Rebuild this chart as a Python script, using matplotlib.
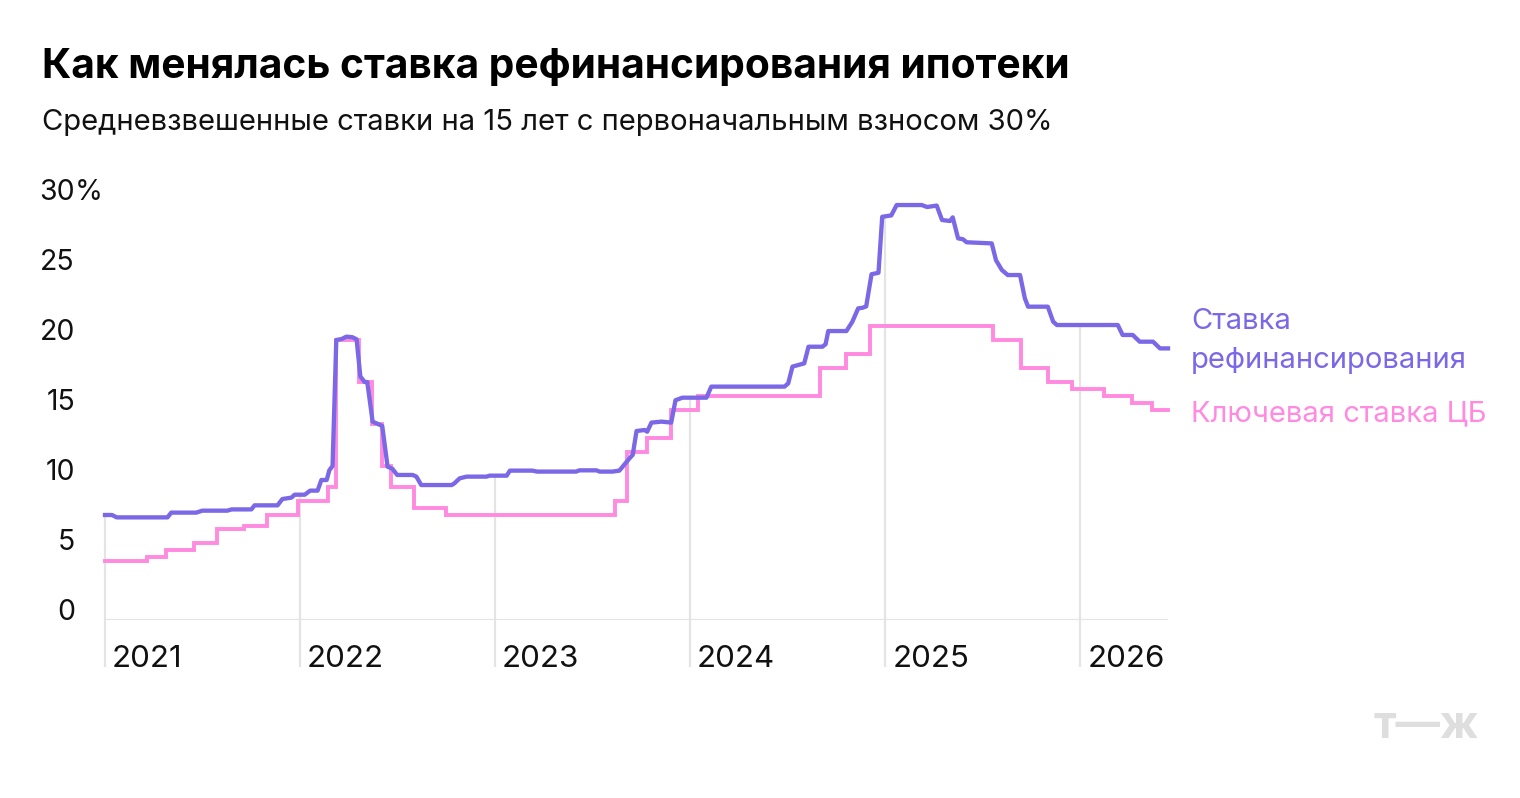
import matplotlib
matplotlib.use("Agg")
import matplotlib.pyplot as plt
import matplotlib.dates as mdates
import matplotlib.transforms as mtransforms
import numpy as np
import pandas as pd

plt.rcParams["font.family"] = ["Inter", "DejaVu Sans"]

# средневзвешенная ставка рефинансирования, %
refi_dates = [
    "2021-01-01", "2021-01-14", "2021-01-23", "2021-04-28", "2021-05-05", "2021-06-21",
    "2021-07-02", "2021-08-18", "2021-08-26", "2021-10-02", "2021-10-08", "2021-11-20",
    "2021-11-29", "2021-12-09", "2021-12-16", "2021-12-22", "2022-01-10", "2022-01-20",
    "2022-02-03", "2022-02-10", "2022-02-20", "2022-02-25", "2022-03-03", "2022-03-10",
    "2022-03-20", "2022-03-29", "2022-04-09", "2022-04-17", "2022-04-24", "2022-05-02",
    "2022-05-07", "2022-05-17", "2022-06-04", "2022-06-14", "2022-06-23", "2022-07-02",
    "2022-07-31", "2022-08-07", "2022-08-16", "2022-10-12", "2022-10-17", "2022-10-27",
    "2022-11-09", "2022-12-16", "2022-12-22", "2023-01-23", "2023-01-29", "2023-03-12",
    "2023-03-21", "2023-06-02", "2023-06-08", "2023-07-10", "2023-07-16", "2023-08-09",
    "2023-08-22", "2023-08-28", "2023-09-10", "2023-09-16", "2023-09-23", "2023-10-08",
    "2023-10-13", "2023-10-21", "2023-11-09", "2023-11-27", "2023-12-05", "2023-12-18",
    "2024-02-01", "2024-02-10", "2024-06-26", "2024-07-03", "2024-07-11", "2024-08-02",
    "2024-08-10", "2024-09-05", "2024-09-11", "2024-09-16", "2024-10-20", "2024-10-31",
    "2024-11-11", "2024-11-19", "2024-11-26", "2024-12-06", "2024-12-19", "2024-12-26",
    "2025-01-12", "2025-01-22", "2025-03-10", "2025-03-20", "2025-04-07", "2025-04-17",
    "2025-05-02", "2025-05-07", "2025-05-17", "2025-05-26", "2025-06-02", "2025-07-19",
    "2025-07-27", "2025-08-07", "2025-08-18", "2025-09-10", "2025-09-19", "2025-09-25",
    "2025-11-01", "2025-11-11", "2025-11-18", "2026-03-12", "2026-03-21", "2026-04-09",
    "2026-04-22", "2026-05-17", "2026-05-30", "2026-06-14",
]
refi_values = [
    7.5, 7.5, 7.33, 7.33, 7.67, 7.67,
    7.81, 7.81, 7.9, 7.9, 8.19, 8.19,
    8.64, 8.7, 8.74, 8.95, 8.95, 9.24,
    9.24, 10.0, 10.0, 10.7, 11.0, 20.0,
    20.07, 20.24, 20.2, 20.05, 17.4, 17.0,
    17.0, 14.17, 13.86, 10.95, 10.8, 10.36,
    10.36, 10.24, 9.64, 9.64, 9.76, 10.12,
    10.24, 10.24, 10.31, 10.31, 10.67, 10.67,
    10.6, 10.6, 10.69, 10.69, 10.6, 10.6,
    10.67, 10.95, 11.55, 11.8, 13.5, 13.57,
    13.45, 14.1, 14.17, 14.1, 15.7, 15.88,
    15.88, 16.67, 16.67, 16.9, 18.1, 18.33,
    19.52, 19.52, 19.7, 20.64, 20.64, 21.3,
    22.26, 22.3, 22.4, 24.7, 24.8, 28.8,
    28.9, 29.64, 29.64, 29.5, 29.6, 28.57,
    28.5, 28.76, 27.26, 27.2, 26.98, 26.9,
    25.7, 25.0, 24.64, 24.64, 22.98, 22.38,
    22.38, 21.31, 21.07, 21.07, 20.36, 20.36,
    19.88, 19.88, 19.4, 19.4,
]

# ключевая ставка ЦБ, % (ступеньки)
key_dates = [
    "2021-01-01", "2021-03-20", "2021-04-26", "2021-06-16", "2021-07-29", "2021-09-19",
    "2021-11-01", "2021-12-29", "2022-02-23", "2022-03-10", "2022-04-22", "2022-05-15",
    "2022-06-04", "2022-06-21", "2022-08-03", "2022-10-02", "2023-08-13", "2023-09-06",
    "2023-10-12", "2023-11-26", "2024-01-16", "2024-08-31", "2024-10-20", "2024-12-04",
    "2025-07-21", "2025-09-12", "2025-11-01", "2025-12-16", "2026-02-14", "2026-04-07",
    "2026-05-15", "2026-06-14",
]
key_values = [
    4.25, 4.5, 5.0, 5.5, 6.5, 6.75,
    7.5, 8.5, 9.5, 20.0, 17.0, 14.0,
    11.0, 9.5, 8.0, 7.5, 8.5, 12.0,
    13.0, 15.0, 16.0, 18.0, 19.0, 21.0,
    20.0, 18.0, 17.0, 16.5, 16.0, 15.5,
    15.0, 15.0,
]

years = [2021, 2022, 2023, 2024, 2025, 2026]
y_ticks = [0, 5, 10, 15, 20, 25, 30]

title = "Как менялась ставка рефинансирования ипотеки"
subtitle = "Средневзвешенные ставки на 15 лет с первоначальным взносом 30%"

BLUE = "#7b68e6"
PINK = "#ff8ae0"
GRID = "#e4e4e4"

W, H = 1520, 798
fig = plt.figure(figsize=(W / 100, H / 100), dpi=100)
ax = fig.add_axes([105 / W, 1 - 620 / H, (1168 - 105) / W, 420 / H])

refi_x = pd.to_datetime(refi_dates)
key_x = pd.to_datetime(key_dates)

ax.set_xlim(pd.Timestamp("2021-01-01"), pd.Timestamp("2026-06-14"))
ax.set_ylim(0, 30)
for s in ax.spines.values():
    s.set_visible(False)
ax.set_xticks([])
ax.set_yticks([])

# вертикальные линии годов — от подписи до линии ставки
refi_num = mdates.date2num(refi_x)
for yr in years:
    d = pd.Timestamp(f"{yr}-01-01")
    top = np.interp(mdates.date2num(d), refi_num, refi_values)
    ax.vlines(d, -3.36, top, color=GRID, lw=1.6, zorder=1, clip_on=False)
ax.axhline(0, color=GRID, lw=1.6, zorder=1)

ax.plot(key_x, key_values, drawstyle="steps-post", color=PINK, lw=2.8,
        zorder=3, solid_joinstyle="miter", clip_on=False)
ax.plot(refi_x, refi_values, color=BLUE, lw=3.1, zorder=4, clip_on=False)

# подписи оси Y
ytr = mtransforms.blended_transform_factory(fig.transFigure, ax.transData)
for v in y_ticks:
    ax.text(75 / W, v, str(v), transform=ytr, ha="right", va="baseline",
            fontsize=20.5, color="#111111")
ax.text(75 / W, 30, "%", transform=ytr, ha="left", va="baseline",
        fontsize=20.5, color="#111111")

# подписи годов
xtr = mtransforms.blended_transform_factory(ax.transData, fig.transFigure)
xtr = mtransforms.offset_copy(xtr, fig=fig, x=7, y=0, units="dots")
for yr in years:
    ax.text(pd.Timestamp(f"{yr}-01-01"), 1 - 667 / H, str(yr), transform=xtr,
            ha="left", va="baseline", fontsize=22.5, color="#111111")

fig.text(42 / W, 1 - 78 / H, title, fontsize=29.3, fontweight="bold",
         ha="left", va="baseline", color="#000000")
fig.text(42 / W, 1 - 130 / H, subtitle, fontsize=21,
         ha="left", va="baseline", color="#111111")

fig.text(1191 / W, 1 - 329 / H, "Ставка", fontsize=21, color=BLUE,
         ha="left", va="baseline")
fig.text(1191 / W, 1 - 368 / H, "рефинансирования", fontsize=21, color=BLUE,
         ha="left", va="baseline")
fig.text(1191 / W, 1 - 421 / H, "Ключевая ставка ЦБ", fontsize=21, color=PINK,
         ha="left", va="baseline")

fig.text(1479 / W, 1 - 738 / H, "т—ж", fontsize=32, fontweight="bold",
         color="#dedede", ha="right", va="baseline")

fig.savefig("out.png", dpi=100)
